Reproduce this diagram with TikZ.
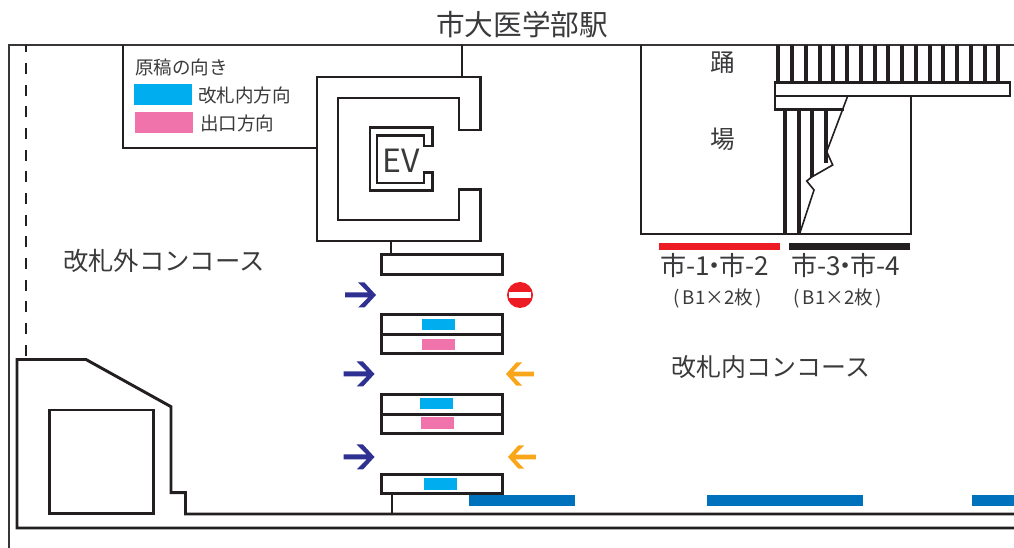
\documentclass[tikz,border=0pt]{standalone}
\usepackage{fontspec}
\setmainfont{Noto Sans CJK JP}
\definecolor{inkgrey}{HTML}{231F20}
\definecolor{labelgrey}{HTML}{3A3A3C}
\definecolor{dircyan}{HTML}{00AEEF}
\definecolor{dirpink}{HTML}{F173AC}
\definecolor{signred}{HTML}{ED1C24}
\definecolor{arrownavy}{HTML}{2E3192}
\definecolor{arroworange}{HTML}{FAA61A}
\definecolor{doorblue}{HTML}{0071BC}
\tikzset{
  wall/.style={draw=inkgrey, line width=2.2pt, line join=miter},
  thinwall/.style={draw=inkgrey!90, line width=1.7pt},
  stairline/.style={draw=inkgrey, line width=3pt},
  breakline/.style={draw=inkgrey, line width=1.2pt, line join=miter},
  gatebox/.style={rectangle, draw=inkgrey, line width=2.2pt, minimum width=90.5pt, minimum height=14.6pt, inner sep=0pt},
  swatch/.style={rectangle, minimum width=#1, minimum height=8.6pt, inner sep=0pt},
  label/.style={text=labelgrey, inner sep=0pt},
  gatearrow/.pic={
    \fill[#1] (-31,-2.5) -- (-8,-2.5) -- (-18,-12.5) -- (-11.5,-12.5) -- (0,0) -- (-11.5,12.5)
      -- (-18,12.5) -- (-8,2.5) -- (-31,2.5) -- cycle;
  }
}
\begin{document}
\begin{tikzpicture}[x=0.75pt, y=-0.75pt]
  \useasboundingbox (0,0) rectangle (1014,548);
  % station frame
  \draw[thinwall] (9,548) -- (9,45) -- (1014,45);
  \draw[wall, dash pattern=on 8.25pt off 8pt] (26,355.7) -- (26,45);
  \draw[wall] (1014,528) -- (17,528) -- (17,359.5) -- (86,359.5) -- (171,406.7) -- (171,492.7) -- (185.5,492.7) -- (185.5,514) -- (1014,514);
  \draw[wall] (49.7,410) rectangle (153.7,513.3);
  % legend and lift
  \draw[wall] (123,45) -- (123,148) -- (317,148);
  \draw[wall] (462,45) -- (462,77);
  \draw[wall] (480.5,130) -- (480.5,77) -- (317,77) -- (317,241) -- (480.5,241) -- (480.5,189.5) -- (459,189.5) -- (459,220) -- (338,220) -- (338,98) -- (459,98) -- (459,130) -- cycle;
  \draw[wall] (432.7,146) -- (432.7,127.7) -- (370,127.7) -- (370,190.7) -- (432.7,190.7) -- (432.7,172.7) -- (424,172.7) -- (424,183) -- (377,183) -- (377,135.7) -- (424,135.7) -- (424,146) -- cycle;
  \node (ev) at (401,161) [label, font=\fontsize{24}{24}\selectfont] {EV};
  \node (legendhead) at (135,67) [label, anchor=west, font=\fontsize{13.9}{14}\selectfont] {原稿の向き};
  \node (legendin) at (163,94.5) [swatch=43.5pt, minimum height=15.5pt, fill=dircyan] {};
  \node (legendout) at (164,122.5) [swatch=43.5pt, minimum height=15.5pt, fill=dirpink] {};
  \node (legendintext) at (198,95) [label, anchor=west, font=\fontsize{13.9}{14}\selectfont] {改札内方向};
  \node (legendouttext) at (200,123) [label, anchor=west, font=\fontsize{13.9}{14}\selectfont] {出口方向};
  % ticket gates
  \node (gate1) at (441.7,264.5) [gatebox] {};
  \node (gate2a) at (441.7,324.5) [gatebox] {};
  \node (gate2b) at (441.7,344) [gatebox] {};
  \node (gate3a) at (441.7,404.5) [gatebox] {};
  \node (gate3b) at (441.7,424) [gatebox] {};
  \node (gate4) at (441.7,484) [gatebox] {};
  \node (cyan2) at (438.3,324.5) [swatch=25pt, fill=dircyan] {};
  \node (pink2) at (438.3,344.5) [swatch=25pt, fill=dirpink] {};
  \node (cyan3) at (436.6,403.5) [swatch=25pt, fill=dircyan] {};
  \node (pink3) at (437.3,423) [swatch=25pt, fill=dirpink] {};
  \node (cyan4) at (440.7,484) [swatch=25pt, fill=dircyan] {};
  \coordinate (evfoot) at (391,241);
  \coordinate (wallfoot) at (392,514);
  \draw[wall] (evfoot) -- (evfoot |- gate1.north);
  \draw[wall] (wallfoot) -- (wallfoot |- gate4.south);
  \foreach \tipx/\tipy in {376/295, 374.5/374, 374.5/457}
    \pic at (\tipx,\tipy) {gatearrow=arrownavy};
  \foreach \tipx/\tipy in {506/374, 508/457}
    \pic[xscale=-0.9, yscale=0.93] at (\tipx,\tipy) {gatearrow=arroworange};
  \node (noentry) at (520,295) [circle, fill=signred, minimum size=19.5pt, inner sep=0pt] {};
  \node (noentrybar) at (noentry) [rectangle, fill=white, minimum width=16.5pt, minimum height=3.8pt, inner sep=0pt] {};
  % doors along the wall
  \node (door1) at (522,500.5) [rectangle, fill=doorblue, minimum width=79.5pt, minimum height=8.3pt, inner sep=0pt] {};
  \node (door2) at (785,500.5) [rectangle, fill=doorblue, minimum width=117pt, minimum height=8.3pt, inner sep=0pt] {};
  \node (door3) at (1014,500.5) [rectangle, fill=doorblue, minimum width=63pt, minimum height=8.3pt, inner sep=0pt] {};
  % stairs and landing
  \draw[wall] (641,45) -- (641,234) -- (911,234) -- (911,96);
  \foreach \k in {0,...,16}
    \draw[stairline] ({778.3+13.75*\k},45) -- ({778.3+13.75*\k},82);
  \draw[stairline] (785,109) -- (785,234);
  \draw[stairline] (798.7,109) -- (798.7,234);
  \draw[stairline] (812.3,109) -- (812.3,177);
  \draw[stairline] (826.3,109) -- (826.3,163);
  \draw[wall] (775,82.3) rectangle (1010,96);
  \draw[wall] (775,96) -- (775,109.3) -- (844,109.3);
  \draw[breakline] (847.7,96) -- (826.7,151.7) -- (832.7,165) -- (811.7,177) -- (806.7,181) -- (814,190) -- (800,232.7);
  \node (line12) at (719.3,246.3) [rectangle, fill=signred, minimum width=91pt, minimum height=5.6pt, inner sep=0pt] {};
  \node (line34) at (849.5,246.3) [rectangle, fill=inkgrey, minimum width=91pt, minimum height=5.6pt, inner sep=0pt] {};
  % labels
  \node (station) at (522,25) [label, font=\fontsize{21.5}{22}\selectfont] {市大医学部駅};
  \node (land1) at (723,63) [label, font=\fontsize{18.5}{19}\selectfont] {踊};
  \node (land2) at (723,139) [label, font=\fontsize{18.5}{19}\selectfont] {場};
  \node (outside) at (164,261) [label, font=\fontsize{19}{19}\selectfont] {改札外コンコース};
  \node (inside) at (771,367) [label, font=\fontsize{18.7}{19}\selectfont] {改札内コンコース};
  \node (name12) at (714.5,266) [label, font=\fontsize{19.6}{20}\selectfont] {市-1\hspace{-.32em}・\hspace{-.32em}市-2};
  \node (name34) at (846,266) [label, font=\fontsize{19.6}{20}\selectfont] {市-3\hspace{-.32em}・\hspace{-.32em}市-4};
  \node (size12) at (718,298) [label, font=\fontsize{14}{14}\selectfont] {(\hspace{.15em}B1×2枚\hspace{.15em})};
  \node (size34) at (838,298) [label, font=\fontsize{14}{14}\selectfont] {(\hspace{.15em}B1×2枚\hspace{.15em})};
\end{tikzpicture}
\end{document}
